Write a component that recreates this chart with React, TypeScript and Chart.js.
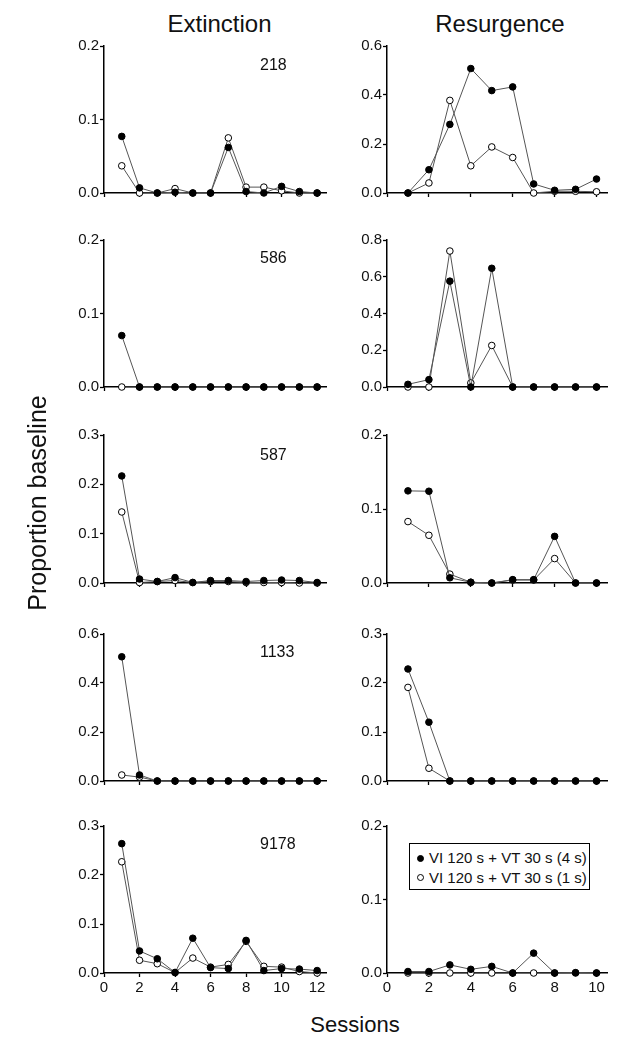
import React, { useEffect, useRef } from 'react';
import { Chart, registerables } from 'chart.js';

Chart.register(...registerables);

const FONT = 'Arial, "Liberation Sans", Helvetica, sans-serif';

// ---------- data ----------
const subjects = ['218', '586', '587', '1133', '9178'];
const seriesLabels = ['VI 120 s + VT 30 s (4 s)', 'VI 120 s + VT 30 s (1 s)'];

const extSessions = [1, 2, 3, 4, 5, 6, 7, 8, 9, 10, 11, 12];
const resSessions = [1, 2, 3, 4, 5, 6, 7, 8, 9, 10];
const extXTicks = [0, 2, 4, 6, 8, 10, 12];
const resXTicks = [0, 2, 4, 6, 8, 10];

// Extinction, 4 s (filled) and 1 s (open)
const ext218Long = [0.077, 0.007, 0, 0.001, 0, 0, 0.062, 0.002, 0, 0.009, 0.002, 0];
const ext218Short = [0.037, 0, 0, 0.006, 0, 0, 0.075, 0.008, 0.008, 0.003, 0, 0];
const ext586Long = [0.07, 0, 0, 0, 0, 0, 0, 0, 0, 0, 0, 0];
const ext586Short = [0, 0, 0, 0, 0, 0, 0, 0, 0, 0, 0, 0];
const ext587Long = [0.217, 0.008, 0.003, 0.011, 0.001, 0.005, 0.005, 0.003, 0.005, 0.006, 0.005, 0.001];
const ext587Short = [0.144, 0.001, 0.003, 0.005, 0.001, 0.003, 0.003, 0.001, 0.001, 0.001, 0, 0];
const ext1133Long = [0.507, 0.0245, 0, 0, 0, 0, 0, 0, 0, 0, 0, 0];
const ext1133Short = [0.0245, 0.016, 0, 0, 0, 0, 0, 0, 0, 0, 0, 0];
const ext9178Long = [0.264, 0.045, 0.029, 0.001, 0.071, 0.011, 0.009, 0.0665, 0.005, 0.009, 0.008, 0.005];
const ext9178Short = [0.227, 0.026, 0.019, 0.001, 0.0305, 0.012, 0.0175, 0.0645, 0.0136, 0.012, 0.003, 0];

// Resurgence, 4 s (filled) and 1 s (open)
const res218Long = [0, 0.095, 0.28, 0.508, 0.418, 0.433, 0.037, 0.011, 0.015, 0.057];
const res218Short = [0, 0.041, 0.378, 0.111, 0.188, 0.145, 0, 0.007, 0.007, 0.005];
const res586Long = [0.0145, 0.04, 0.576, 0, 0.646, 0, 0, 0, 0, 0];
const res586Short = [0, 0, 0.74, 0.022, 0.226, 0, 0, 0, 0, 0];
const res587Long = [0.1245, 0.124, 0.007, 0.001, 0, 0.0045, 0.0045, 0.063, 0, 0];
const res587Short = [0.083, 0.0645, 0.012, 0.001, 0, 0.004, 0.004, 0.033, 0, 0];
const res1133Long = [0.2286, 0.12, 0, 0, 0, 0, 0, 0, 0, 0];
const res1133Short = [0.191, 0.026, 0, 0, 0, 0, 0, 0, 0, 0];
const res9178Long = [0.002, 0.002, 0.011, 0.005, 0.009, 0, 0.027, 0, 0.0005, 0];
const res9178Short = [0, 0, 0, 0, 0, 0, 0, 0, 0, 0];

const extLong = [ext218Long, ext586Long, ext587Long, ext1133Long, ext9178Long];
const extShort = [ext218Short, ext586Short, ext587Short, ext1133Short, ext9178Short];
const resLong = [res218Long, res586Long, res587Long, res1133Long, res9178Long];
const resShort = [res218Short, res586Short, res587Short, res1133Short, res9178Short];

const yTicksExt = [
  [0, 0.1, 0.2],
  [0, 0.1, 0.2],
  [0, 0.1, 0.2, 0.3],
  [0, 0.2, 0.4, 0.6],
  [0, 0.1, 0.2, 0.3],
];
const yTicksRes = [
  [0, 0.2, 0.4, 0.6],
  [0, 0.2, 0.4, 0.6, 0.8],
  [0, 0.1, 0.2],
  [0, 0.1, 0.2, 0.3],
  [0, 0.1, 0.2],
];
const extXMax = 12.5;
const resXMax = 10.5;

// ---------- layout ----------
const rowAreas = [
  { top: 46, bottom: 193 },
  { top: 240, bottom: 387 },
  { top: 435, bottom: 583 },
  { top: 634, bottom: 781 },
  { top: 826, bottom: 973 },
];
const cols = [
  { canvasLeft: 40, areaLeft: 104, areaRight: 326 },
  { canvasLeft: 330, areaLeft: 387, areaRight: 607 },
];
const PAD_TOP = 12;
const PAD_RIGHT = 10;

type PanelProps = {
  col: number;
  row: number;
  sessions: number[];
  longVals: number[];
  shortVals: number[];
  xMax: number;
  xTicks: number[];
  yTicks: number[];
};

function Panel({ col, row, sessions, longVals, shortVals, xMax, xTicks, yTicks }: PanelProps) {
  const ref = useRef<HTMLCanvasElement>(null);
  const c = cols[col];
  const r = rowAreas[row];
  const bottomRow = row === rowAreas.length - 1;
  const xAxisH = bottomRow ? 28 : 14;
  const yAxisW = c.areaLeft - c.canvasLeft;
  const width = c.areaRight - c.canvasLeft + PAD_RIGHT;
  const height = r.bottom - r.top + PAD_TOP + xAxisH;
  const left = c.canvasLeft;
  const top = r.top - PAD_TOP;

  useEffect(() => {
    const canvas = ref.current!;
    const yMax = yTicks[yTicks.length - 1];
    const chart = new Chart(canvas, {
      type: 'line',
      data: {
        datasets: [
          {
            label: seriesLabels[0],
            data: sessions.map((s, i) => ({ x: s, y: longVals[i] })),
            borderColor: '#555',
            borderWidth: 1,
            pointRadius: 3.3,
            pointBackgroundColor: '#000',
            pointBorderColor: '#000',
            pointBorderWidth: 1,
            clip: false,
            tension: 0,
          } as any,
          {
            label: seriesLabels[1],
            data: sessions.map((s, i) => ({ x: s, y: shortVals[i] })),
            borderColor: '#555',
            borderWidth: 1,
            pointRadius: 3.3,
            pointBackgroundColor: '#fff',
            pointBorderColor: '#000',
            pointBorderWidth: 1,
            clip: false,
            tension: 0,
          } as any,
        ],
      },
      options: {
        responsive: false,
        animation: false,
        devicePixelRatio: 1,
        events: [],
        layout: { padding: { top: PAD_TOP, right: PAD_RIGHT, bottom: 0, left: 0 } },
        plugins: { legend: { display: false }, tooltip: { enabled: false } },
        scales: {
          x: {
            type: 'linear',
            min: 0,
            max: xMax,
            afterBuildTicks: (s: any) => {
              s.ticks = xTicks.map((v) => ({ value: v }));
            },
            afterFit: (s: any) => {
              s.height = xAxisH;
            },
            grid: {
              display: true,
              drawOnChartArea: false,
              drawTicks: true,
              tickLength: 4,
              tickColor: '#000',
              tickWidth: 1.3,
            },
            border: { display: true, color: '#000', width: 1.5 },
            ticks: {
              display: bottomRow,
              color: '#111',
              font: { family: FONT, size: 15 },
              padding: 2,
              maxRotation: 0,
              autoSkip: false,
            },
          },
          y: {
            type: 'linear',
            min: 0,
            max: yMax,
            afterBuildTicks: (s: any) => {
              s.ticks = yTicks.map((v) => ({ value: v }));
            },
            afterFit: (s: any) => {
              s.width = yAxisW;
            },
            grid: {
              display: true,
              drawOnChartArea: false,
              drawTicks: true,
              tickLength: 4,
              tickColor: '#000',
              tickWidth: 1.3,
            },
            border: { display: true, color: '#000', width: 1.5 },
            ticks: {
              color: '#111',
              font: { family: FONT, size: 15 },
              padding: 1,
              autoSkip: false,
              callback: (v: any) => Number(v).toFixed(1),
            },
          },
        },
      } as any,
    });
    return () => chart.destroy();
  }, []);

  return (
    <canvas
      ref={ref}
      width={width}
      height={height}
      style={{ position: 'absolute', left, top, width, height }}
    />
  );
}

const idLabelPos = [
  { x: 260, y: 65 },
  { x: 260, y: 258 },
  { x: 260, y: 455 },
  { x: 260, y: 652 },
  { x: 260, y: 844 },
];

export default function App() {
  return (
    <div
      style={{
        position: 'absolute',
        left: 0,
        top: 0,
        width: 631,
        height: 1050,
        background: '#fff',
        fontFamily: FONT,
        color: '#111',
        overflow: 'hidden',
      }}
    >
      {/* column titles */}
      <div style={{ position: 'absolute', left: 119.5, width: 200, top: 12, textAlign: 'center', fontSize: 24, lineHeight: '24px' }}>
        Extinction
      </div>
      <div style={{ position: 'absolute', left: 400, width: 200, top: 12, textAlign: 'center', fontSize: 24, lineHeight: '24px' }}>
        Resurgence
      </div>

      {subjects.map((_, i) => (
        <Panel
          key={'e' + i}
          col={0}
          row={i}
          sessions={extSessions}
          longVals={extLong[i]}
          shortVals={extShort[i]}
          xMax={extXMax}
          xTicks={extXTicks}
          yTicks={yTicksExt[i]}
        />
      ))}
      {subjects.map((_, i) => (
        <Panel
          key={'r' + i}
          col={1}
          row={i}
          sessions={resSessions}
          longVals={resLong[i]}
          shortVals={resShort[i]}
          xMax={resXMax}
          xTicks={resXTicks}
          yTicks={yTicksRes[i]}
        />
      ))}

      {/* subject ids */}
      {subjects.map((s, i) => (
        <div
          key={'id' + i}
          style={{ position: 'absolute', left: idLabelPos[i].x, top: idLabelPos[i].y - 8, fontSize: 16, lineHeight: '16px' }}
        >
          {s}
        </div>
      ))}

      {/* legend */}
      <div
        style={{
          position: 'absolute',
          left: 409,
          top: 843,
          width: 181,
          height: 47,
          boxSizing: 'border-box',
          border: '1.5px solid #000',
          background: '#fff',
        }}
      >
        {seriesLabels.map((lab, i) => (
          <div key={lab} style={{ position: 'absolute', left: 7, top: 6 + i * 19.5, height: 16, display: 'flex', alignItems: 'center', fontSize: 15, lineHeight: '16px', whiteSpace: 'nowrap' }}>
            <span
              style={{
                display: 'inline-block',
                width: 7,
                height: 7,
                borderRadius: '50%',
                boxSizing: 'border-box',
                border: '1px solid #000',
                background: i === 0 ? '#000' : '#fff',
                marginRight: 5,
              }}
            />
            <span>{lab}</span>
          </div>
        ))}
      </div>

      {/* axis titles */}
      <div
        style={{
          position: 'absolute',
          left: 37 - 150,
          top: 503 - 13,
          width: 300,
          height: 26,
          textAlign: 'center',
          fontSize: 25,
          lineHeight: '26px',
          transform: 'rotate(-90deg)',
          transformOrigin: '150px 13px',
        }}
      >
        Proportion baseline
      </div>
      <div style={{ position: 'absolute', left: 255, width: 200, top: 1013, textAlign: 'center', fontSize: 22, lineHeight: '24px' }}>
        Sessions
      </div>
    </div>
  );
}
